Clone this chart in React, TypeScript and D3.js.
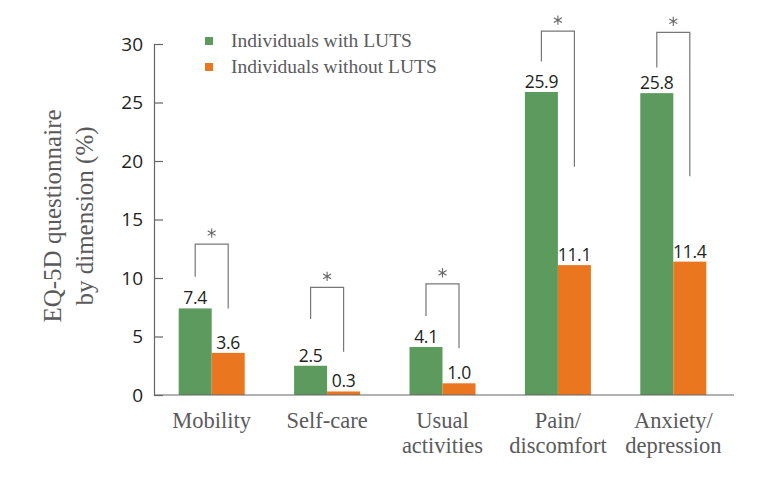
import React, { useEffect, useRef } from 'react';
import * as d3 from 'd3';

const categories = ['Mobility', 'Self-care', 'Usual activities', 'Pain/discomfort', 'Anxiety/depression'];
const tickLines = [['Mobility'], ['Self-care'], ['Usual', 'activities'], ['Pain/', 'discomfort'], ['Anxiety/', 'depression']];
const withLuts = [7.4, 2.5, 4.1, 25.9, 25.8];
const withoutLuts = [3.6, 0.3, 1.0, 11.1, 11.4];
const seriesNames = ['Individuals with LUTS', 'Individuals without LUTS'];
const yTicks = [0, 5, 10, 15, 20, 25, 30];
// significance brackets, in data units: top bar, left leg end, right leg end
const sigTop = [12.9, 9.2, 9.5, 31.1, 31.0];
const sigLeftEnd = [10.1, 6.5, 6.75, 28.5, 28.0];
const sigRightEnd = [7.4, 3.7, 4.0, 19.5, 18.7];

const GREEN = '#5c9a5e';
const ORANGE = '#ea771f';
const GREY = '#5a5a5c';

const EQ5DChart = ({ width, height }) => {
  const svgRef = useRef();

  useEffect(() => {
    const svg = d3.select(svgRef.current);
    svg.selectAll('*').remove();

    const x = d3.scaleBand().domain(categories).range([154, 731]).padding(0);
    const y = d3.scaleLinear().domain([0, 30]).range([395, 44]);
    const barW = x.bandwidth() * 0.286;
    const cx = (c) => x(c) + x.bandwidth() / 2;

    const rows = categories.map((c, i) => ({
      c, a: withLuts[i], b: withoutLuts[i],
      top: sigTop[i], le: sigLeftEnd[i], re: sigRightEnd[i], lines: tickLines[i]
    }));

    // bars
    svg.append('g').selectAll('rect')
      .data(rows)
      .join('rect')
      .attr('x', d => cx(d.c) - barW)
      .attr('y', d => y(d.a))
      .attr('width', barW)
      .attr('height', d => y(0) - y(d.a))
      .attr('fill', GREEN);

    svg.append('g').selectAll('rect')
      .data(rows)
      .join('rect')
      .attr('x', d => cx(d.c))
      .attr('y', d => y(d.b))
      .attr('width', barW)
      .attr('height', d => y(0) - y(d.b))
      .attr('fill', ORANGE);

    // value labels
    const labelStyle = (sel) => sel
      .attr('text-anchor', 'middle')
      .attr('font-family', '"Open Sans", sans-serif')
      .attr('font-size', 17.5)
      .attr('letter-spacing', -0.3)
      .attr('fill', '#231f20');

    svg.append('g').selectAll('text')
      .data(rows)
      .join('text')
      .attr('x', d => cx(d.c) - barW / 2)
      .attr('y', d => y(d.a) - 4)
      .text(d => d.a.toFixed(1))
      .call(labelStyle);

    svg.append('g').selectAll('text')
      .data(rows)
      .join('text')
      .attr('x', d => cx(d.c) + barW / 2)
      .attr('y', d => y(d.b) - 4)
      .text(d => d.b.toFixed(1))
      .call(labelStyle);

    // significance brackets
    const sig = svg.append('g');
    sig.selectAll('path.br')
      .data(rows)
      .join('path')
      .attr('class', 'br')
      .attr('d', d => {
        const l = cx(d.c) - barW / 2;
        const r = cx(d.c) + barW / 2;
        return `M${l},${y(d.le)}V${y(d.top)}H${r}V${y(d.re)}`;
      })
      .attr('fill', 'none')
      .attr('stroke', '#777')
      .attr('stroke-width', 1.2);

    sig.selectAll('path.star')
      .data(rows)
      .join('path')
      .attr('class', 'star')
      .attr('transform', d => `translate(${cx(d.c)},${y(d.top) - 11})`)
      .attr('d', d3.symbol(d3.symbolAsterisk, 60)())
      .attr('fill', 'none')
      .attr('stroke', '#666')
      .attr('stroke-width', 1.1);

    // y axis
    const yAxis = svg.append('g')
      .attr('transform', 'translate(154,0)')
      .call(d3.axisLeft(y).tickValues(yTicks).tickSizeInner(-9).tickSizeOuter(0).tickPadding(11));
    yAxis.select('.domain').attr('stroke', '#666').attr('stroke-width', 1.2);
    yAxis.selectAll('.tick line').attr('stroke', '#666').attr('stroke-width', 1.2);
    yAxis.selectAll('.tick text')
      .attr('font-family', '"Open Sans", sans-serif')
      .attr('font-size', 19)
      .attr('fill', '#231f20');

    // x axis line
    svg.append('line')
      .attr('x1', 154).attr('x2', 734)
      .attr('y1', y(0)).attr('y2', y(0))
      .attr('stroke', '#666')
      .attr('stroke-width', 1.2);

    // x tick labels
    svg.append('g').selectAll('text')
      .data(rows)
      .join('text')
      .attr('text-anchor', 'middle')
      .attr('font-family', '"Liberation Serif", serif')
      .attr('font-size', 22.5)
      .attr('fill', GREY)
      .each(function (d) {
        d3.select(this).selectAll('tspan')
          .data(d.lines)
          .join('tspan')
          .attr('x', cx(d.c))
          .attr('y', (_, j) => 428 + j * 25)
          .text(t => t);
      });

    // y title
    svg.append('text')
      .attr('transform', 'translate(0,216) rotate(-90)')
      .attr('text-anchor', 'middle')
      .attr('font-family', '"Liberation Serif", serif')
      .attr('font-size', 25)
      .attr('fill', GREY)
      .selectAll('tspan')
      .data(['EQ-5D questionnaire', 'by dimension (%)'])
      .join('tspan')
      .attr('x', 0)
      .attr('y', (_, j) => 61 + j * 32)
      .text(t => t);

    // legend
    const legend = svg.append('g').selectAll('g')
      .data(seriesNames)
      .join('g')
      .attr('transform', (_, i) => `translate(205,${37 + i * 26})`);
    legend.append('rect')
      .attr('width', 8).attr('height', 8)
      .attr('fill', (_, i) => (i === 0 ? GREEN : ORANGE));
    legend.append('text')
      .attr('x', 26).attr('y', 10)
      .attr('font-family', '"Liberation Serif", serif')
      .attr('font-size', 19.5)
      .attr('fill', GREY)
      .text(d => d);
  }, [width, height]);

  return <svg ref={svgRef} width={width} height={height} style={{ position: 'absolute', left: 0, top: 0 }}></svg>;
};

export default function App() {
  return <EQ5DChart width={757} height={482} />;
}
